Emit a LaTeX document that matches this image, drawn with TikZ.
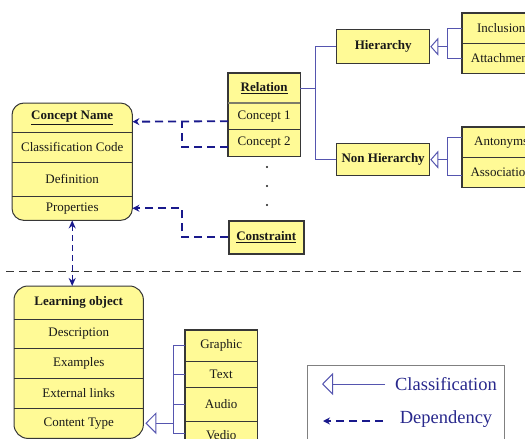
\documentclass[tikz,border=0pt]{standalone}
\usepackage{fontspec}
\setmainfont{Liberation Serif}
\usetikzlibrary{arrows.meta,backgrounds}
\definecolor{boxfill}{RGB}{255,250,150}
\definecolor{boxline}{RGB}{55,55,55}
\definecolor{depblue}{RGB}{25,25,140}
\definecolor{clsblue}{RGB}{85,85,175}
\definecolor{legtext}{RGB}{40,40,140}
\definecolor{sepgray}{RGB}{55,55,55}
\definecolor{txt}{RGB}{25,25,25}
\definecolor{headrule}{RGB}{125,125,105}

\begin{document}
\begin{tikzpicture}[x=1pt,y=-1pt,
  cell/.style={rectangle, inner sep=0pt, anchor=north west, text=txt,
    font=\fontsize{13}{15}\selectfont},
  frame/.style={draw=boxline, line width=1pt, fill=boxfill},
  divider/.style={draw=boxline, line width=0.8pt},
  dep/.style={draw=depblue, line width=1.8pt, dash pattern=on 8pt off 5pt,
    -{Stealth[length=7pt,width=7pt]}},
  depline/.style={draw=depblue, line width=1.8pt, dash pattern=on 8pt off 5pt},
  depboth/.style={draw=depblue, line width=1.3pt, dash pattern=on 6pt off 4pt,
    {Stealth[length=8pt,width=7pt]}-{Stealth[length=8pt,width=7pt]}},
  cls/.style={draw=clsblue, line width=1pt},
  clsarrow/.style={cls, -{Triangle[open,length=8pt,width=18pt,line width=1pt]}},
  clsbig/.style={cls, -{Triangle[open,length=11pt,width=22pt,line width=1pt]}},
  legend/.style={text=legtext, inner sep=0pt, font=\fontsize{18.5}{21}\selectfont},
]
\useasboundingbox (0,0) rectangle (525,439);
\clip (0,0) rectangle (525,439);

% ---------- Concept Name ----------
\node[cell, minimum width=120pt, minimum height=29pt] (cnhead) at (12,103) {\bfseries\underline{Concept Name}};
\node[cell, minimum width=120pt, minimum height=30pt] (cncode) at (12,132) {Classification Code};
\node[cell, minimum width=120pt, minimum height=34pt] (cndef)  at (12,162) {Definition};
\node[cell, minimum width=120pt, minimum height=24pt] (cnprop) at (12,196) {Properties};
\begin{scope}[on background layer]
  \draw[frame, rounded corners=12pt] (cnhead.north west) rectangle (cnprop.south east);
\end{scope}
\foreach \r in {cncode,cndef,cnprop}
  \draw[divider] (\r.north west) -- (\r.north east);

% ---------- Relation ----------
\node[cell, minimum width=72pt, minimum height=30pt] (relh) at (228,73) {\raisebox{2pt}{\bfseries\underline{Relation}}};
\node[cell, minimum width=72pt, minimum height=26pt] (rc1) at (228,103) {\raisebox{-2pt}{Concept 1}};
\node[cell, minimum width=72pt, minimum height=27pt] (rc2) at (228,129) {Concept 2};
\begin{scope}[on background layer]
  \draw[frame, line width=1.2pt] (relh.north west) rectangle (rc2.south east);
\end{scope}
\draw[draw=headrule, line width=1.5pt] (rc1.north west) -- (rc1.north east);
\draw[divider] (rc2.north west) -- (rc2.north east);

% continuation dots
\foreach \yy in {167,186,205} \fill[txt] (267,\yy) circle (1.1pt);

% ---------- Constraint ----------
\node[cell, minimum width=75pt, minimum height=33pt, draw=boxline, line width=1.5pt, fill=boxfill]
  (con) at (228,220) {\bfseries\underline{Constraint}};

% ---------- Hierarchy branch ----------
\node[cell, minimum width=93pt, minimum height=34pt, draw=boxline, line width=1.3pt, fill=boxfill]
  (hier) at (336,29) {\bfseries Hierarchy};
\node[cell, minimum width=93pt, minimum height=32pt, draw=boxline, line width=1.3pt, fill=boxfill]
  (nonh) at (336,143) {\bfseries Non Hierarchy};

\node[cell, minimum width=78pt, minimum height=30pt] (incl) at (462,13) {Inclusion};
\node[cell, minimum width=78pt, minimum height=30pt] (att)  at (462,43) {Attachment};
\node[cell, minimum width=78pt, minimum height=30pt] (ant)  at (462,127) {Antonyms};
\node[cell, minimum width=78pt, minimum height=30pt] (assoc) at (462,157) {Association};
\begin{scope}[on background layer]
  \draw[frame, line width=1.2pt] (incl.north west) rectangle (att.south east);
  \draw[frame, line width=1.2pt] (ant.north west) rectangle (assoc.south east);
\end{scope}
\draw[divider] (att.north west) -- (att.north east);
\draw[divider] (assoc.north west) -- (assoc.north east);

% ---------- Learning object ----------
\node[cell, minimum width=129pt, minimum height=33pt] (lohead) at (14,286) {\bfseries Learning object};
\node[cell, minimum width=129pt, minimum height=29pt] (lodesc) at (14,319) {Description};
\node[cell, minimum width=129pt, minimum height=30pt] (loex)   at (14,348) {Examples};
\node[cell, minimum width=129pt, minimum height=30pt] (lolink) at (14,378) {External links};
\node[cell, minimum width=129pt, minimum height=30pt] (loct)   at (14,408) {Content Type};
\begin{scope}[on background layer]
  \draw[frame, rounded corners=14pt] (lohead.north west) rectangle (loct.south east);
\end{scope}
\foreach \r in {lodesc,loex,lolink,loct}
  \draw[divider] (\r.north west) -- (\r.north east);

% ---------- Content types ----------
\node[cell, minimum width=72pt, minimum height=31pt] (gra) at (185,330) {Graphic};
\node[cell, minimum width=72pt, minimum height=26pt] (txt) at (185,361) {Text};
\node[cell, minimum width=72pt, minimum height=34pt] (aud) at (185,387) {Audio};
\node[cell, minimum width=72pt, minimum height=28pt] (ved) at (185,421) {Vedio};
\begin{scope}[on background layer]
  \draw[frame, line width=1.2pt] (gra.north west) rectangle ([yshift=-12pt]ved.south east);
\end{scope}
\foreach \r in {txt,aud,ved}
  \draw[divider] (\r.north west) -- (\r.north east);

% ---------- section separator ----------
\draw[draw=sepgray, line width=1pt, dash pattern=on 8pt off 5pt] (6,271) -- (525,271);

% ---------- dependencies ----------
\coordinate (cj) at (182,121);
\draw[dep] ([yshift=-5pt]rc1.west) -- ([yshift=-4pt]cnhead.east);
\draw[depline] ([yshift=-4.5pt]rc2.west) -| (cj);
\draw[dep] (con.west) -- ++(-46,0) |- (cnprop.east);
\draw[depboth] (cnprop.south) -- (cnprop.south |- lohead.north);

% ---------- classifications ----------
\coordinate (rj) at ([xshift=15pt]relh.east);
\draw[cls] (relh.east) -- (rj);
\draw[cls] (rj) |- (hier.west);
\draw[cls] (rj) |- (nonh.west);

\coordinate (hj) at ([xshift=17pt]hier.east);
\draw[clsarrow] (hj) -- (hier.east);
\draw[cls] (incl.west) -| (hj);
\draw[cls] (att.west) -| (hj);

\coordinate (nj) at ([xshift=17pt]nonh.east);
\draw[clsarrow] (nj) -- (nonh.east);
\draw[cls] ([yshift=5pt]ant.west) -| (nj);
\draw[cls] ([yshift=-3pt]assoc.west) -| (nj);

\coordinate (tj) at ([xshift=30pt]loct.east);
\draw[clsbig] (tj) -- ([xshift=2pt]loct.east);
\draw[cls] (gra.west) -| (tj);
\draw[cls] (txt.west) -| (tj);
\draw[cls] (aud.west) -| (tj);
\draw[cls] ([yshift=2pt]ved.west) -| (tj);

% ---------- legend ----------
\draw[draw=gray, line width=1pt] (307,365) rectangle (504,450);
\node[legend] (legcls) at (446,384) {Classification};
\node[legend] (legdep) at (446,419) {Dependency};
\coordinate (lc1) at (385,384);
\coordinate (lc2) at (322,384);
\coordinate (ld1) at (383,421);
\coordinate (ld2) at (323,421);
\draw[clsbig] (lc1) -- (lc2);
\draw[dep] (ld1) -- (ld2);
\end{tikzpicture}
\end{document}
